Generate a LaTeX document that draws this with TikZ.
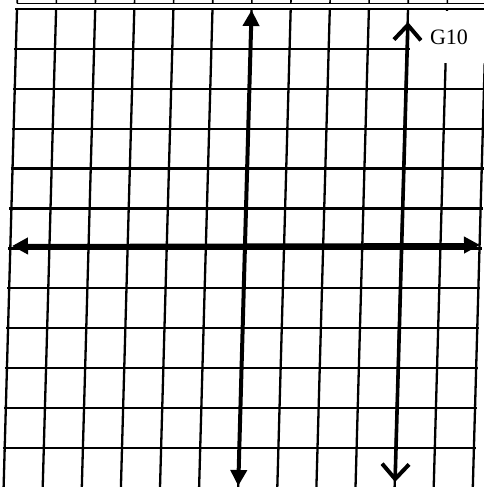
\documentclass[tikz,border=0pt]{standalone}
\usepackage{fontspec}
\setmainfont{Liberation Serif}
\usetikzlibrary{arrows.meta}
\begin{document}
\begin{tikzpicture}[x=1pt,y=-1pt,
  gridline/.style={line width=2.3pt, black},
  stripline/.style={line width=1.6pt, black},
  axisarrow/.style={line width=4pt, {Triangle[length=16pt,width=16pt]}-{Triangle[length=16pt,width=16pt]}},
  barbarrow/.style={line width=3.6pt, {Straight Barb[length=15pt,width=27pt,line width=4pt]}-{Straight Barb[length=15pt,width=27pt,line width=4pt]}},
  lab/.style={font=\fontsize{22}{26}\selectfont, inner sep=0pt}]
\useasboundingbox (0,0) rectangle (484,487);
\fill[white] (0,0) rectangle (484,487);
% strip of the previous grid at the top
\draw[stripline] (17,3.5) -- (484,3.5);
\foreach \i in {0,...,12} \draw[stripline] (17.3+39.1*\i,0) -- (17.2+39.1*\i,3.5);
% sheared grid
\begin{scope}[shift={(0,9)}, xslant=0.028]
  \foreach \i in {0,...,12} \draw[gridline] (17+39.1*\i,0) -- (17+39.1*\i,480);
  \foreach \j in {0,...,11} \draw[gridline] (15,39.9*\j) -- (19+39.1*12,39.9*\j);
  \coordinate (ytop) at (251.6,1);
  \coordinate (ybot) at (251.6,477);
  \coordinate (gtop) at (408.3,13);
  \coordinate (gbot) at (408.3,473);
\end{scope}
% label area
\fill[white] (409.5,11.5) rectangle (484,63);
\node[lab] (g10) at (449,37) {G10};
% axes
\coordinate (xleft) at (12,246);
\coordinate (xright) at (480,245);
\draw[axisarrow] (xleft) -- (xright);
\draw[axisarrow] (ybot) -- (ytop);
\draw[barbarrow] (gbot) -- (gtop);
\end{tikzpicture}
\end{document}
